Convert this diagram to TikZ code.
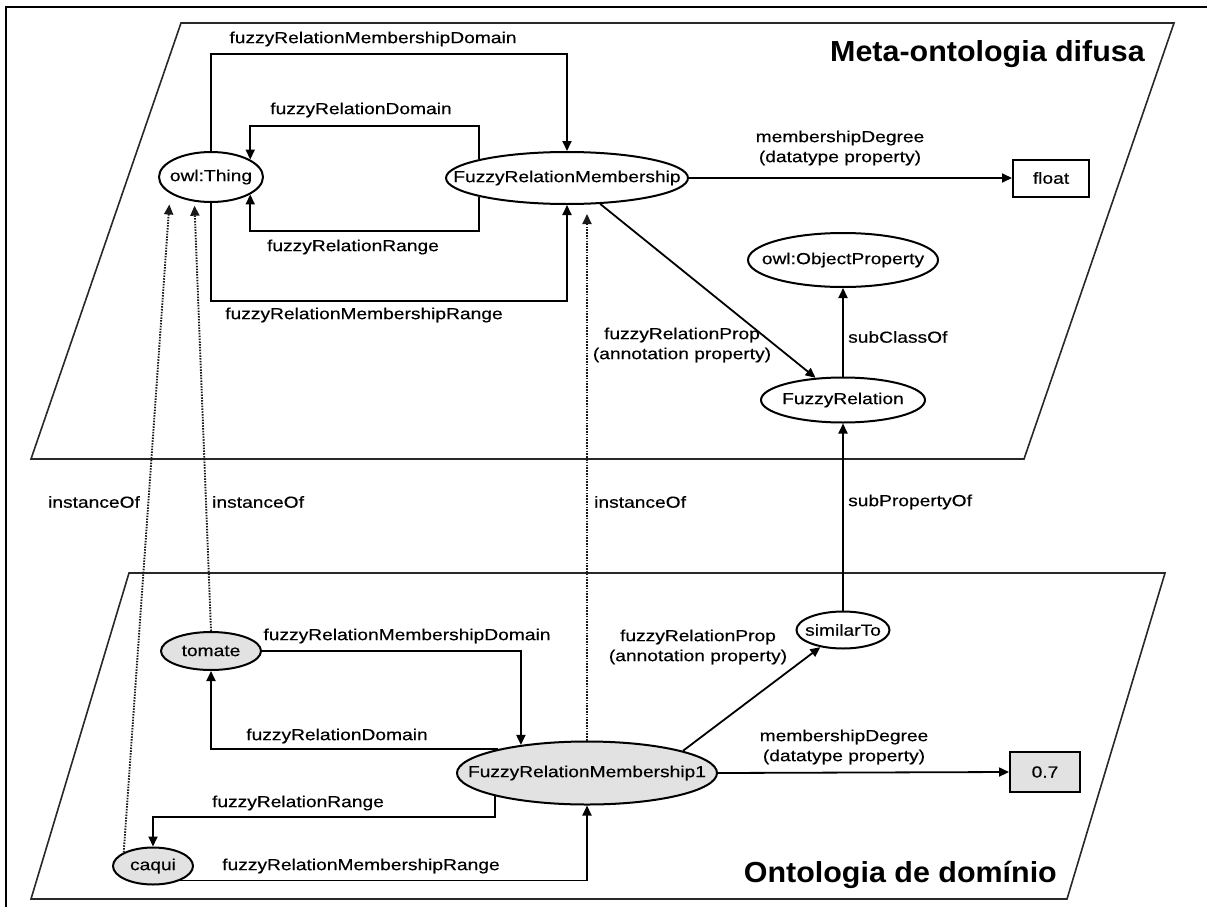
\documentclass[tikz,border=0pt]{standalone}
\usepackage{fontspec}
\setmainfont{Liberation Sans}[FakeStretch=1.2, FakeBold=0.4]
\newfontfamily\titlefont{Liberation Sans}[FakeStretch=1.05]
\usetikzlibrary{shapes.geometric,arrows.meta,calc}

\definecolor{instfill}{RGB}{226,226,226}
\definecolor{planeline}{RGB}{40,40,40}

\newcommand\lblfont{\fontsize{16pt}{20pt}\selectfont}
\newcommand\ntxt[1]{\makebox[0pt]{#1}}

\tikzset{
  cls/.style={ellipse, draw, fill=white, line width=2pt, inner sep=0pt, font=\lblfont},
  inst/.style={cls, fill=instfill},
  lit/.style={rectangle, draw, fill=white, line width=2pt, inner sep=0pt, font=\lblfont},
  rel/.style={line width=1.8pt, -{Triangle[length=10pt,width=9pt]}},
  inof/.style={line width=1.9pt, dash pattern=on 1.5pt off 1.3pt, black!90,
               -{Triangle[length=10pt,width=9pt]}},
  lbl/.style={font=\lblfont, inner sep=0pt, align=center},
  plane/.style={line width=1.6pt, planeline, line join=miter},
  title/.style={anchor=base east, inner sep=0pt,
                font={\titlefont\fontsize{29pt}{31pt}\selectfont\bfseries}},
}

\begin{document}
\begin{tikzpicture}[x=1pt, y=-1pt]
\useasboundingbox (0,0) rectangle (1207,907);

% outer frame
\draw[line width=2pt] (6,907) -- (6,7) -- (1207,7);

% the two ontology planes
\draw[plane] (181,23) -- (1174,23) -- (1024,459) -- (31,459) -- cycle;
\draw[plane] (129,573) -- (1165,573) -- (1067,899) -- (31,899) -- cycle;

\node[title] (t1) at (1145,62) {Meta-ontologia difusa};
\node[title] (t2) at (1057,882) {Ontologia de domínio};

% meta-ontology
\node[cls, minimum width=104pt, minimum height=50pt] (thing) at (211,177) {\ntxt{owl:Thing}};
\node[cls, minimum width=242pt, minimum height=52pt] (frm) at (567,178) {\ntxt{FuzzyRelationMembership}};
\node[lit, minimum width=76pt, minimum height=37pt] (float) at (1051,178) {float};
\node[cls, minimum width=190pt, minimum height=54pt] (objprop) at (843,260) {\ntxt{owl:ObjectProperty}};
\node[cls, minimum width=164pt, minimum height=45pt] (fuzzyrel) at (843,400) {\ntxt{FuzzyRelation}};

% domain ontology
\node[cls, minimum width=93pt, minimum height=37pt] (similar) at (843,630) {\ntxt{similarTo}};
\node[inst, minimum width=100pt, minimum height=38pt] (tomate) at (211,651) {\ntxt{tomate}};
\node[inst, minimum width=260pt, minimum height=63pt] (frm1) at (587,773) {\ntxt{FuzzyRelationMembership1}};
\node[lit, fill=instfill, minimum width=70pt, minimum height=40pt] (val) at (1045,772) {0.7};
\node[inst, minimum width=80pt, minimum height=37pt] (caqui) at (153,866) {\ntxt{caqui}};

% relations of the meta-ontology
\draw[rel] (thing.north) |- (frm.north |- 0,54) -- (frm.north);
\draw[rel] (frm.168) |- (thing.24 |- 0,126) -- (thing.24);
\draw[rel] (frm.192) |- (thing.-24 |- 0,231) -- (thing.-24);
\draw[rel] (thing.south) |- (frm.south |- 0,301) -- (frm.south);
\draw[rel] (frm.east) -- (float.west);
\draw[rel] (frm.-38) -- (fuzzyrel);
\draw[rel] (fuzzyrel.north) -- (objprop.south);

% relations of the domain ontology
\draw[rel] (similar.north) -- (fuzzyrel.south);
\draw[rel] (tomate.east) -| (frm1.157);
\draw[rel] (frm1.165.5) -| (tomate.south);
\draw[rel] (frm1.194) |- (caqui.north |- 0,817) -- (caqui.north);
\draw[rel] (caqui.-28) -| (frm1.south);
\draw[rel] (frm1.13) -- (similar);
\draw[rel] (frm1.east) -- (val.west);

% instance links
\draw[inof, shorten >=11pt] (caqui.155) -- (thing.202);
\draw[inof, shorten >=4pt] (tomate.north) -- (thing.236);
\draw[inof, shorten >=9pt] (frm1.north) -- (frm1.north |- frm.south);

% edge labels
\node[lbl] (l1) at (373,39) {fuzzyRelationMembershipDomain};
\node[lbl] (l2) at (361,110) {fuzzyRelationDomain};
\node[lbl] (l3) at (353,247) {fuzzyRelationRange};
\node[lbl] (l4) at (364,315) {fuzzyRelationMembershipRange};
\node[lbl] (l5) at (840,148) {membershipDegree\\(datatype property)};
\node[lbl] (l6) at (682,345) {fuzzyRelationProp\\(annotation property)};
\node[lbl, anchor=west] (l7) at (848,337) {subClassOf};
\node[lbl, anchor=west] (l8) at (848,502) {subPropertyOf};
\node[lbl] (l9) at (94,502) {instanceOf};
\node[lbl, anchor=west] (l10) at (212,502) {instanceOf};
\node[lbl, anchor=west] (l11) at (594,502) {instanceOf};
\node[lbl] (l12) at (407,636) {fuzzyRelationMembershipDomain};
\node[lbl] (l13) at (337,736) {fuzzyRelationDomain};
\node[lbl] (l14) at (298,803) {fuzzyRelationRange};
\node[lbl] (l15) at (361,866) {fuzzyRelationMembershipRange};
\node[lbl] (l16) at (698,647) {fuzzyRelationProp\\(annotation property)};
\node[lbl] (l17) at (844,747) {membershipDegree\\(datatype property)};
\end{tikzpicture}
\end{document}
